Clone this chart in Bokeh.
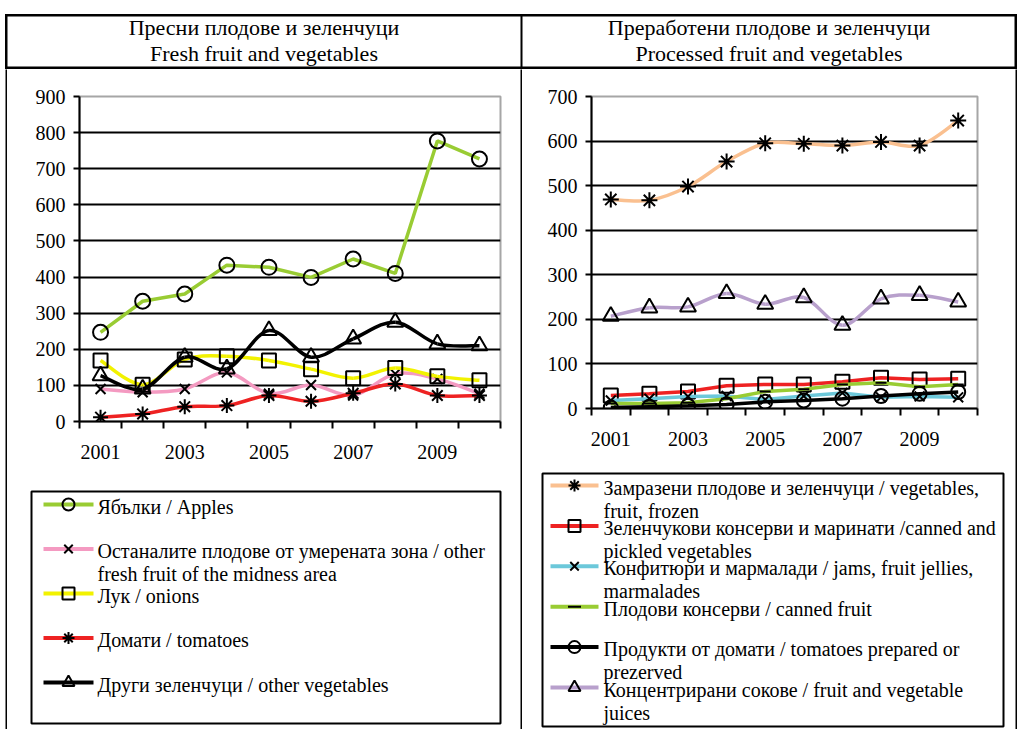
from bokeh.plotting import figure
from bokeh.models import Range1d, FixedTicker, Span
from bokeh.layouts import column, row
from bokeh.embed import file_html
from bokeh.resources import INLINE
from bokeh.core.properties import value

# ---------------- data ----------------
years = [2001, 2002, 2003, 2004, 2005, 2006, 2007, 2008, 2009, 2010]
year_labels = [2001, 2003, 2005, 2007, 2009]

# fresh fruit and vegetables
apples = [247, 333, 353, 433, 427, 399, 450, 410, 777, 727]
other_fruit = [90, 81, 90, 136, 77, 101, 72, 132, 118, 77]
onions = [169, 102, 172, 181, 169, 145, 120, 148, 125, 114]
tomatoes = [12, 21, 41, 44, 72, 56, 78, 104, 72, 72]
other_veg = [127, 90, 178, 146, 252, 178, 229, 275, 215, 210]

# processed fruit and vegetables
frozen = [469, 467, 498, 554, 595, 594, 590, 598, 590, 646]
canned_veg = [29, 33, 38, 51, 54, 54, 60, 69, 65, 67]
jams = [18, 22, 27, 28, 20, 28, 35, 25, 27, 25]
canned_fruit = [11, 11, 13, 22, 38, 43, 54, 58, 49, 54]
tomato_prod = [2, 4, 6, 9, 15, 18, 22, 28, 33, 37]
juices = [207, 226, 228, 258, 234, 249, 187, 246, 254, 239]

left_title = ["Пресни плодове и зеленчуци", "Fresh fruit and vegetables"]
right_title = ["Преработени плодове и зеленчуци", "Processed fruit and vegetables"]

left_labels = [
    ["Ябълки / Apples"],
    ["Останалите плодове от умерената зона / other", "fresh fruit of the midness area"],
    ["Лук / onions"],
    ["Домати / tomatoes"],
    ["Други зеленчуци / other vegetables"],
]
right_labels = [
    ["Замразени плодове и зеленчуци / vegetables,", "fruit, frozen"],
    ["Зеленчукови консерви и маринати /canned and", "pickled vegetables"],
    ["Конфитюри и мармалади / jams, fruit jellies,", "marmalades"],
    ["Плодови консерви /  canned fruit"],
    ["Продукти от домати / tomatoes prepared or", "prezerved"],
    ["Концентрирани сокове / fruit  and vegetable", "juices"],
]

# series styles: (colour, marker, marker size, smoothed line)
left_styles = [("#99CC33", "circle", 15, False), ("#F49AC1", "x", 14, True),
               ("#F2F200", "square", 14, True), ("#EE2222", "asterisk", 15, True),
               ("black", "triangle", 16, True)]
right_styles = [("#FAC090", "asterisk", 16, True), ("#EE2222", "square", 14, False),
                ("#6CC8DA", "x", 14, False), ("#99CC33", "dash", 11, False),
                ("black", "circle", 14, False), ("#B8A0CC", "triangle", 16, True)]

FONT = "Liberation Serif"


def smooth(xs, ys):
    """Catmull-Rom style bezier segments through the data points."""
    n = len(xs)
    d = dict(x0=[], y0=[], x1=[], y1=[], cx0=[], cy0=[], cx1=[], cy1=[])
    for i in range(n - 1):
        pm = max(i - 1, 0)
        pp = min(i + 2, n - 1)
        d["x0"].append(xs[i]); d["y0"].append(ys[i])
        d["x1"].append(xs[i + 1]); d["y1"].append(ys[i + 1])
        d["cx0"].append(xs[i] + (xs[i + 1] - xs[pm]) / 6.0)
        d["cy0"].append(ys[i] + (ys[i + 1] - ys[pm]) / 6.0)
        d["cx1"].append(xs[i + 1] - (xs[pp] - xs[i]) / 6.0)
        d["cy1"].append(ys[i + 1] - (ys[pp] - ys[i]) / 6.0)
    return d


def chart(width, height, ymax, frame_h, mb_left, mb_right):
    p = figure(width=width, height=height, x_range=Range1d(2000.5, 2010.5),
               y_range=Range1d(0, ymax), output_backend="svg", toolbar_location=None,
               min_border_left=mb_left, min_border_right=mb_right,
               min_border_top=27, min_border_bottom=height - 27 - frame_h,
               frame_align=False)
    p.outline_line_color = "#A6A6A6"
    p.outline_line_width = 2
    p.xgrid.visible = False
    yt = FixedTicker(ticks=list(range(0, ymax + 1, 100)))
    p.yaxis.ticker = yt
    p.ygrid.ticker = yt
    p.ygrid.grid_line_color = "black"
    p.ygrid.grid_line_width = 2
    p.xaxis.ticker = FixedTicker(ticks=year_labels,
                                 minor_ticks=[y - 0.5 for y in years] + [years[-1] + 0.5])
    p.xaxis.major_tick_out = 0
    p.xaxis.major_tick_in = 0
    p.xaxis.minor_tick_out = 7
    p.xaxis.minor_tick_in = 0
    p.xaxis.minor_tick_line_color = "black"
    p.xaxis.minor_tick_line_width = 2
    p.xaxis.major_label_standoff = 16
    p.yaxis.major_tick_out = 6
    p.yaxis.major_tick_in = 0
    p.yaxis.minor_tick_out = 0
    p.yaxis.minor_tick_in = 0
    p.yaxis.major_label_standoff = 8
    for ax in (p.xaxis, p.yaxis):
        ax.axis_line_color = "black"
        ax.axis_line_width = 2
        ax.major_tick_line_color = "black"
        ax.major_tick_line_width = 2
        ax.major_label_text_font = FONT
        ax.major_label_text_font_size = "20px"
        ax.major_label_text_color = "black"
    return p


def series(p, ys, color, marker, size, smooth_line):
    if smooth_line:
        p.bezier(source=smooth(years, ys), x0="x0", y0="y0", x1="x1", y1="y1",
                 cx0="cx0", cy0="cy0", cx1="cx1", cy1="cy1",
                 line_color=color, line_width=3.5)
    else:
        p.line(years, ys, line_color=color, line_width=3.5)
    p.scatter(years, ys, marker=marker, size=size, line_color="black",
              line_width=2, fill_alpha=0)


def legend_fig(width, height, box, labels, styles, first_y, step, key_x0, key_x1, text_x):
    """Legend panel drawn in a pixel-like coordinate system (y grows downward)."""
    f = figure(width=width, height=height, x_range=Range1d(0, width),
               y_range=Range1d(height, 0), output_backend="svg", toolbar_location=None,
               min_border=0, x_axis_type=None, y_axis_type=None, frame_align=False)
    f.outline_line_color = None
    f.grid.visible = False
    bl, bt, br, bb = box
    f.quad(left=[bl], right=[br], top=[bt], bottom=[bb], fill_color="white",
           line_color="black", line_width=2)
    ys = [first_y + i * step for i in range(len(labels))]
    cols = [s[0] for s in styles]
    marks = [s[1] for s in styles]
    f.segment(x0=[key_x0] * len(ys), x1=[key_x1] * len(ys), y0=ys, y1=ys,
              line_color=cols, line_width=4)
    km = (key_x0 + key_x1) / 2.0
    msz = [13 if m == "dash" else 12 for m in marks]
    f.scatter(x=[km] * len(ys), y=ys, marker=marks, size=msz, line_color="black",
              line_width=2, fill_alpha=0)
    tx, ty, tt = [], [], []
    for y, lines in zip(ys, labels):
        for j, ln in enumerate(lines):
            tx.append(text_x)
            ty.append(y + 2 + 23 * j)
            tt.append(ln)
    f.text(x=tx, y=ty, text=tt, text_align="left", text_baseline="middle",
           text_font=value(FONT), text_font_size="20px", text_color="black")
    return f


# ---------------- left cell ----------------
pl = chart(513, 411, 900, 325, 72, 20)
for ys, st in zip([apples, other_fruit, onions, tomatoes, other_veg], left_styles):
    series(pl, ys, *st)
ll = legend_fig(513, 249, (24, 11, 493, 243), left_labels, left_styles,
                24, 44.5, 36, 86, 90)

# ---------------- right cell ----------------
pr = chart(493, 391, 700, 312, 69, 38)
for ys, st in zip([frozen, canned_veg, jams, canned_fruit, tomato_prod, juices], right_styles):
    series(pr, ys, *st)
lr_ = legend_fig(493, 269, (20, 13, 481, 266), right_labels, right_styles,
                 25, 40.4, 28, 76, 81)

# ---------------- header row ----------------
hd = figure(width=1012, height=55, x_range=Range1d(0, 1012), y_range=Range1d(0, 55),
            output_backend="svg", toolbar_location=None, min_border=0,
            x_axis_type=None, y_axis_type=None, frame_align=False)
hd.grid.visible = False
hd.outline_line_color = "black"
hd.outline_line_width = 4
hd.add_layout(Span(location=516, dimension="height", line_color="black", line_width=2))
hd.text(x=[258.5, 258.5], y=[42, 16], text=left_title, text_align="center",
        text_baseline="middle", text_font=value(FONT), text_font_size="22px",
        text_color="black")
hd.text(x=[763.5, 763.5], y=[42, 16], text=right_title, text_align="center",
        text_baseline="middle", text_font=value(FONT), text_font_size="22px",
        text_color="black")


def rule(h):
    f = figure(width=2, height=h, output_backend="svg", toolbar_location=None,
               min_border=0, x_axis_type=None, y_axis_type=None, frame_align=False)
    f.outline_line_color = None
    f.grid.visible = False
    f.background_fill_color = "black"
    f.border_fill_color = "black"
    return f


layout = column(
    hd,
    row(rule(660), column(pl, ll), rule(660), column(pr, lr_), rule(660)),
    margin=(14, 0, 0, 5),
)

open("out.html", "w").write(file_html(layout, INLINE))
